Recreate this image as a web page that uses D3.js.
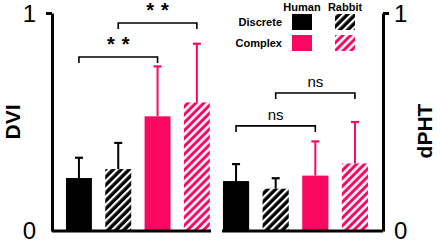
<!DOCTYPE html>
<html>
<head>
<meta charset="utf-8">
<script src="https://cdn.jsdelivr.net/npm/d3@7"></script>
<style>
  body { margin: 0; background: #fff; }
  svg { font-family: "Liberation Sans", Arial, sans-serif; }
</style>
</head>
<body>
<script>
const groups = ["hd", "rd", "hc", "rc"];
const species = ["Human", "Rabbit"];
const types = ["Discrete", "Complex"];

const dviMean = [0.243, 0.284, 0.526, 0.59];
const dviSD = [0.093, 0.12, 0.229, 0.269];
const dphtMean = [0.229, 0.194, 0.254, 0.31];
const dphtSD = [0.078, 0.048, 0.157, 0.19];

// pairs compared, bracket height, label
const dviSig = [[0, 2, 0.798, "**"], [1, 3, 0.954, "**"]];
const dphtSig = [[0, 2, 0.482, "ns"], [1, 3, 0.633, "ns"]];

const black = "#000", pink = "#fa0762";
const fills = ["#000", "url(#hatchK)", pink, "url(#hatchP)"];
const strokes = [black, black, pink, pink];

const width = 440, height = 244;
const svg = d3.select("body").append("svg")
  .attr("width", width).attr("height", height);

const defs = svg.append("defs");
function hatch(id, color, white) {
  const p = defs.append("pattern")
    .attr("id", id).attr("patternUnits", "userSpaceOnUse")
    .attr("width", 5.6).attr("height", 5.6)
    .attr("patternTransform", "rotate(45)");
  p.append("rect").attr("width", 5.6).attr("height", 5.6).attr("fill", color);
  p.append("rect").attr("width", white).attr("height", 5.6).attr("fill", "#fff");
}
hatch("hatchK", black, 2.2);
hatch("hatchP", pink, 2.6);

const y = d3.scaleLinear().domain([0, 1]).range([231, 13]);

function panel(xRange, axisX, lineX, means, sds, sig, right, label, labelX) {
  const x = d3.scaleBand().domain(groups).range(xRange).paddingInner(0.34).paddingOuter(0.34);
  const g = svg.append("g");

  // bars
  g.selectAll("rect.bar").data(groups).join("rect")
    .attr("class", "bar")
    .attr("x", d => x(d))
    .attr("width", x.bandwidth())
    .attr("y", (d, i) => y(means[i]))
    .attr("height", (d, i) => y(0) - y(means[i]))
    .attr("fill", (d, i) => fills[i]);

  // error bars (upper only)
  groups.forEach((d, i) => {
    const cx = x(d) + x.bandwidth() / 2;
    g.append("line").attr("x1", cx).attr("x2", cx)
      .attr("y1", y(means[i])).attr("y2", y(means[i] + sds[i]))
      .attr("stroke", strokes[i]).attr("stroke-width", 2);
    g.append("line").attr("x1", cx - 4).attr("x2", cx + 4)
      .attr("y1", y(means[i] + sds[i])).attr("y2", y(means[i] + sds[i]))
      .attr("stroke", strokes[i]).attr("stroke-width", 2.2);
  });

  // significance brackets
  sig.forEach(([a, b, h, txt]) => {
    const xa = x(groups[a]) + x.bandwidth() / 2;
    const xb = x(groups[b]) + x.bandwidth() / 2;
    const yt = y(h);
    g.append("path")
      .attr("d", `M${xa},${yt + 6}V${yt}H${xb}V${yt + 6}`)
      .attr("fill", "none").attr("stroke", "#000").attr("stroke-width", 1.6);
    const star = txt === "**";
    g.append("text")
      .attr("x", (xa + xb) / 2 + (star ? 3.5 : 0))
      .attr("y", star ? yt - 6 : yt - 6)
      .attr("text-anchor", "middle")
      .attr("font-size", star ? 20 : 15)
      .attr("font-weight", star ? "bold" : "normal")
      .attr("letter-spacing", star ? 7 : 0)
      .text(txt);
  });

  // x axis baseline
  g.append("line")
    .attr("x1", lineX[0]).attr("x2", lineX[1])
    .attr("y1", y(0)).attr("y2", y(0))
    .attr("stroke", "#000").attr("stroke-width", 3);

  // y axis
  const axis = (right ? d3.axisRight(y) : d3.axisLeft(y))
    .tickValues([0, 1]).tickSize(6).tickSizeOuter(0).tickPadding(right ? 5 : 10)
    .tickFormat(d3.format("d"));
  const ag = g.append("g")
    .attr("transform", `translate(${axisX},0)`)
    .call(axis);
  ag.select(".domain").attr("stroke-width", 3);
  ag.selectAll(".tick line").attr("stroke-width", 3);
  ag.selectAll(".tick").filter(d => d === 0).select("line").remove();
  ag.selectAll(".tick text")
    .attr("font-size", 24)
    .attr("font-family", "'Liberation Sans', Arial, sans-serif")
    .attr("dy", d => d === 0 ? "0.3em" : "0.36em");

  svg.append("text")
    .attr("transform", `translate(${labelX},${right ? 131 : 122}) rotate(-90)`)
    .attr("text-anchor", "middle")
    .attr("font-size", 21)
    .attr("font-weight", "bold")
    .text(label);
}

panel([52.6, 223.2], 52, [52, 211], dviMean, dviSD, dviSig, false, "DVI", 20);
panel([209.5, 381.5], 383, [222, 383], dphtMean, dphtSD, dphtSig, true, "dPHT", 432);

// legend
const lg = svg.append("g");
const lx = [302, 345];
const ly = [22, 43];
species.forEach((s, i) => {
  lg.append("text").attr("x", lx[i]).attr("y", 11)
    .attr("text-anchor", "middle").attr("font-size", 11).attr("font-weight", "bold")
    .text(s);
});
types.forEach((t, j) => {
  lg.append("text").attr("x", 282).attr("y", ly[j] + 4)
    .attr("text-anchor", "end").attr("font-size", 11).attr("font-weight", "bold")
    .text(t);
  species.forEach((s, i) => {
    lg.append("rect")
      .attr("x", lx[i] - 10).attr("y", ly[j] - 8)
      .attr("width", 20).attr("height", 16)
      .attr("fill", fills[j * 2 + i]);
  });
});
</script>
</body>
</html>
